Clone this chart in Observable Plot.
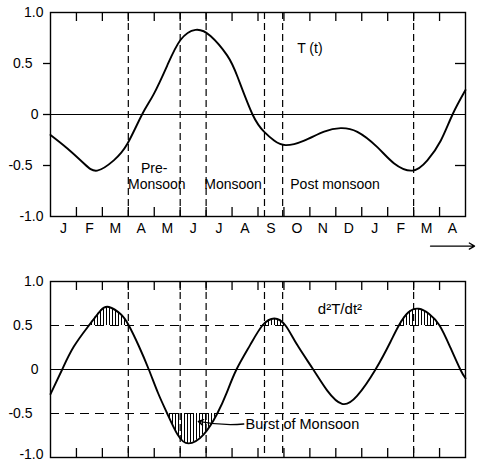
<!DOCTYPE html>
<html><head><meta charset="utf-8">
<script src="https://cdn.jsdelivr.net/npm/d3@7"></script>
<script src="https://cdn.jsdelivr.net/npm/@observablehq/plot@0.6"></script>
<style>body{margin:0;background:#fff} #chart{width:477px}</style>
</head><body><div id="chart"></div>
<script>
// ---- data (months counted from 1 January; 16 = 1 May of next year) ----
const monthLabels = ["J","F","M","A","M","J","J","A","S","O","N","D","J","F","M","A"];
const monthBounds = [1,2,3,4,5,6,7,8,9,10,11,12,13,14,15];
const seasonBreaks = [3, 5, 6, 8.25, 8.95, 14];

const tMonths = [0, 0.64, 1.29, 1.8, 2.44, 2.97, 3.53, 3.98, 4.5, 5.01, 5.59, 6.17, 6.81, 7.21, 7.79, 8.24, 8.62, 9.07, 9.78, 10.55, 11.19, 11.83, 12.6, 13.25, 13.96, 14.53, 15.05, 15.5, 16];
const tValues = [-0.2, -0.33, -0.48, -0.55, -0.45, -0.285, 0, 0.2, 0.48, 0.73, 0.83, 0.77, 0.58, 0.37, 0, -0.17, -0.255, -0.30, -0.255, -0.167, -0.134, -0.17, -0.32, -0.48, -0.55, -0.45, -0.255, 0, 0.24];

const dMonths = [0, 0.45, 0.9, 1.48, 1.93, 2.25, 2.7, 3.02, 3.4, 3.79, 4.15, 4.5, 4.9, 5.32, 5.9, 6.43, 6.8, 7.17, 7.7, 8.17, 8.63, 9.06, 9.51, 10.13, 10.67, 11.24, 11.82, 12.53, 13.1, 13.43, 13.8, 14.2, 14.6, 15.0, 15.4, 15.8, 16];
const dValues = [-0.28, 0, 0.26, 0.5, 0.67, 0.71, 0.63, 0.5, 0.27, 0, -0.27, -0.5, -0.74, -0.84, -0.74, -0.5, -0.26, 0, 0.28, 0.5, 0.58, 0.5, 0.28, 0, -0.24, -0.39, -0.30, 0, 0.31, 0.5, 0.65, 0.69, 0.63, 0.5, 0.26, 0, -0.1];

const yTop = [1];
const yBottom = [-1];
const yHalves = [0.5, -0.5];
const yZero = [0];

const topNotes = [
  {m: 4.0, v: -0.53, label: "Pre-"},
  {m: 4.1, v: -0.69, label: "Monsoon"},
  {m: 7.04, v: -0.69, label: "Monsoon"},
  {m: 10.97, v: -0.69, label: "Post monsoon"},
  {m: 10.0, v: 0.65, label: "T (t)"}
];
const timeArrow = [{m1: 14.65, m2: 16.35, v: -1.29}];
const bottomNotes = [{m: 11.16, v: 0.68, label: "d²T/dt²"}];
const burstNote = [{m: 7.52, v: -0.62, label: "Burst of Monsoon"}];
const burstPointer = [{m1: 7.45, v1: -0.62, m2: 5.7, v2: -0.59}];

// ---- build ----
const font = "'Liberation Sans', Arial, Helvetica, sans-serif";
const fmt = d => d === 0 ? "0" : d.toFixed(1);
const tData = tMonths.map((m, i) => ({m, v: tValues[i]}));
const dData = dMonths.map((m, i) => ({m, v: dValues[i]}));
const W = 477, ML = 50, MR = 12;
const FW = W - ML - MR;
const style = {fontFamily: font, fontSize: "14px", color: "#000", background: "#fff", overflow: "visible"};
const curve = "natural";

const topPlot = Plot.plot({
  width: W, height: 262, marginLeft: ML, marginRight: MR, marginTop: 12, marginBottom: 46,
  x: {domain: [0, 16], axis: null},
  y: {domain: [-1, 1], axis: null},
  style,
  marks: [
    Plot.ruleY(yZero, {stroke: "#000", strokeWidth: 1}),
    Plot.ruleX(seasonBreaks, {stroke: "#000", strokeWidth: 1.2, strokeDasharray: "7,4"}),
    Plot.tickX(monthBounds, {x: d => d, insetBottom: 195, stroke: "#000", strokeWidth: 1.3}),
    Plot.tickX(monthBounds, {x: d => d, insetTop: 195, stroke: "#000", strokeWidth: 1.3}),
    Plot.tickY(yHalves, {y: d => d, insetLeft: FW - 10, stroke: "#000", strokeWidth: 1.3}),
    Plot.lineY(tData, {x: "m", y: "v", curve, stroke: "#000", strokeWidth: 1.9}),
    Plot.frame({stroke: "#000", strokeWidth: 1.4}),
    Plot.axisY([...yTop, ...yBottom], {label: null, tickSize: 0, tickPadding: 7, tickFormat: fmt, fontSize: 14}),
    Plot.axisY(yHalves, {label: null, tickSize: 7, tickPadding: 11, tickFormat: fmt, fontSize: 14, strokeWidth: 1.3}),
    Plot.axisY(yZero, {label: null, tickSize: 7, tickPadding: 5, tickFormat: fmt, fontSize: 14, strokeWidth: 1.3}),
    Plot.text(monthLabels, {x: (d, i) => i + 0.5, text: d => d, frameAnchor: "bottom", dy: 16, fontSize: 14}),
    Plot.text(topNotes, {x: "m", y: "v", text: "label", fontSize: 14}),
    Plot.arrow(timeArrow, {x1: "m1", x2: "m2", y1: "v", y2: "v", headLength: 7, stroke: "#000", strokeWidth: 1.3})
  ]
});

const bottomPlot = Plot.plot({
  width: W, height: 200, marginLeft: ML, marginRight: MR, marginTop: 19, marginBottom: 5,
  x: {domain: [0, 16], axis: null},
  y: {domain: [-1, 1], axis: null},
  style,
  marks: [
    Plot.areaY(dData, {x: "m", y1: () => 0.5, y2: "v", curve, fill: "#000"}),
    Plot.areaY(dData, {x: "m", y1: () => -0.5, y2: "v", curve, fill: "#000"}),
    Plot.ruleY(yZero, {stroke: "#000", strokeWidth: 1}),
    Plot.ruleY(yHalves, {stroke: "#000", strokeWidth: 1.2, strokeDasharray: "9,6"}),
    Plot.ruleX(seasonBreaks, {stroke: "#000", strokeWidth: 1.2, strokeDasharray: "7,4"}),
    Plot.tickX(monthBounds, {x: d => d, insetBottom: 167, stroke: "#000", strokeWidth: 1.3}),
    Plot.tickX(monthBounds, {x: d => d, insetTop: 167, stroke: "#000", strokeWidth: 1.3}),
    Plot.lineY(dData, {x: "m", y: "v", curve, stroke: "#000", strokeWidth: 1.9}),
    Plot.frame({stroke: "#000", strokeWidth: 1.4}),
    Plot.axisY(yTop, {label: null, tickSize: 0, tickPadding: 7, tickFormat: fmt, fontSize: 14}),
    Plot.axisY(yBottom, {label: null, tickSize: 0, tickPadding: 7, tickFormat: fmt, fontSize: 14, dy: -3}),
    Plot.axisY(yHalves, {label: null, tickSize: 0, tickPadding: 18, tickFormat: fmt, fontSize: 14}),
    Plot.axisY(yZero, {label: null, tickSize: 0, tickPadding: 12, tickFormat: fmt, fontSize: 14}),
    Plot.text(bottomNotes, {x: "m", y: "v", text: "label", fontSize: 15}),
    Plot.text(burstNote, {x: "m", y: "v", text: "label", textAnchor: "start", fontSize: 14.5}),
    Plot.arrow(burstPointer, {x1: "m1", y1: "v1", x2: "m2", y2: "v2", headLength: 6, bend: 8, stroke: "#000", strokeWidth: 1.4})
  ]
});

// hatch pattern + clipping of the hatched areas to beyond ±0.5
const svg = d3.select(bottomPlot);
const defs = svg.insert("defs", ":first-child");
defs.append("pattern").attr("id", "hatch").attr("patternUnits", "userSpaceOnUse")
  .attr("width", 3).attr("height", 10)
  .append("line").attr("x1", 1.5).attr("x2", 1.5).attr("y1", 0).attr("y2", 10)
  .attr("stroke", "#000").attr("stroke-width", 1);
const sy = bottomPlot.scale("y"), sx = bottomPlot.scale("x");
const x0 = sx.apply(0), x1 = sx.apply(16);
const clips = [
  {id: "clipUp", top: sy.apply(1), bottom: sy.apply(0.5)},
  {id: "clipDown", top: sy.apply(-0.5), bottom: sy.apply(-1)}
];
const areaGroups = svg.selectAll('g[aria-label="area"]').nodes();
clips.forEach((c, i) => {
  defs.append("clipPath").attr("id", c.id).append("rect")
    .attr("x", x0).attr("width", x1 - x0).attr("y", c.top).attr("height", c.bottom - c.top);
  const g = d3.select(areaGroups[i]);
  g.attr("clip-path", `url(#${c.id})`).attr("fill", "url(#hatch)");
  g.selectAll("path").attr("fill", "url(#hatch)");
});

const chart = document.getElementById("chart");
chart.append(topPlot, bottomPlot);
for (const el of [topPlot, bottomPlot]) el.style.display = "block";
</script>
</body></html>
